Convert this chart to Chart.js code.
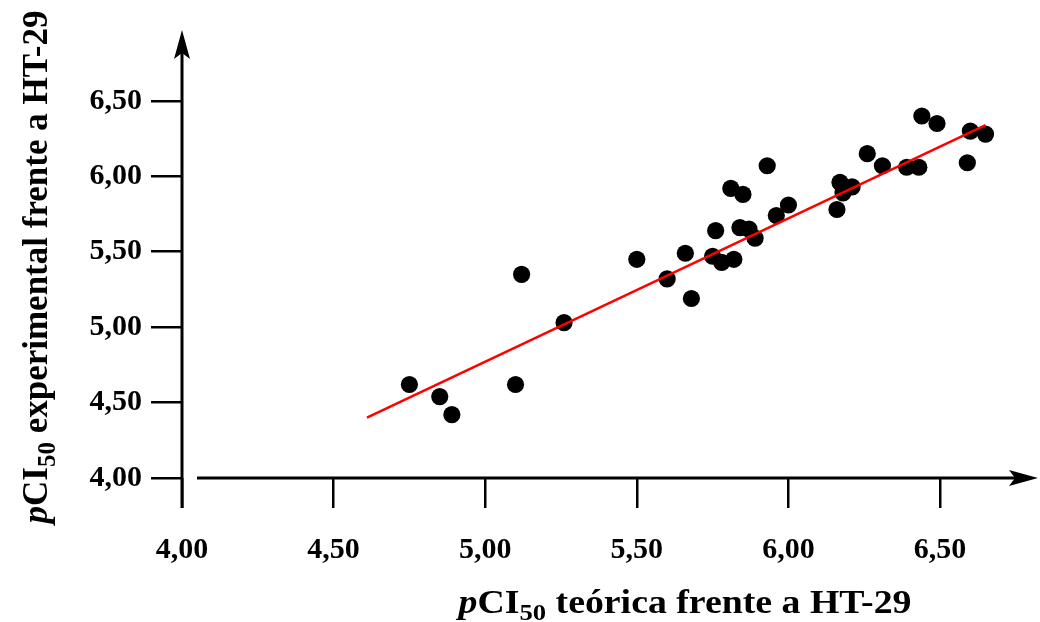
<!DOCTYPE html>
<html>
<head>
<meta charset="utf-8">
<script src="https://cdn.jsdelivr.net/npm/chart.js@4.4.1/dist/chart.umd.min.js"></script>
<style>
  html, body { margin: 0; padding: 0; background: #fff; }
  #wrap { width: 1040px; height: 622px; }
</style>
</head>
<body>
<div id="wrap"><canvas id="chart" width="1040" height="622"></canvas></div>
<script>
// pCI50 teórica (x) vs pCI50 experimental (y)
const teorica = [4.75, 4.85, 4.89, 5.10, 5.12, 5.26, 5.50, 5.60, 5.66, 5.68,
                 5.75, 5.76, 5.78, 5.82, 5.81, 5.84, 5.85, 5.87, 5.89, 5.93,
                 5.96, 6.00, 6.16, 6.17, 6.18, 6.21, 6.26, 6.31, 6.39, 6.43,
                 6.44, 6.49, 6.59, 6.60, 6.65]
const experimental = [4.62, 4.54, 4.42, 4.62, 5.35, 5.03, 5.45, 5.32, 5.49, 5.19,
                      5.47, 5.64, 5.43, 5.45, 5.92, 5.66, 5.88, 5.65, 5.59, 6.07,
                      5.74, 5.81, 5.78, 5.96, 5.89, 5.93, 6.15, 6.07, 6.06, 6.06,
                      6.40, 6.35, 6.09, 6.30, 6.28]
// regression line ends
const fitX = [4.61, 6.65]
const fitY = [4.40, 6.34]
const xTicks = [4.0, 4.5, 5.0, 5.5, 6.0, 6.5]
const yTicks = [4.0, 4.5, 5.0, 5.5, 6.0, 6.5]

const FONT = '"Liberation Serif", "Times New Roman", serif'
const fmt = v => v.toFixed(2).replace('.', ',')

// draws "pCI50 ..." with italic p and subscript 50, centred on (0,0)
function richTitle(ctx, rest, size, targetW) {
  const sub = Math.round(size * 0.72)
  const parts = [
    { t: 'p', f: 'italic bold ' + size + 'px ' + FONT, dy: 0 },
    { t: 'CI', f: 'bold ' + size + 'px ' + FONT, dy: 0 },
    { t: '50', f: 'bold ' + sub + 'px ' + FONT, dy: Math.round(size * 0.22) },
    { t: rest, f: 'bold ' + size + 'px ' + FONT, dy: 0 }
  ]
  let w = 0
  parts.forEach(p => { ctx.font = p.f; p.w = ctx.measureText(p.t).width; w += p.w })
  if (targetW) ctx.scale(targetW / w, 1)
  let x = -w / 2
  ctx.textBaseline = 'alphabetic'
  ctx.textAlign = 'left'
  ctx.fillStyle = '#000'
  parts.forEach(p => { ctx.font = p.f; ctx.fillText(p.t, x, p.dy); x += p.w })
}

function arrow(ctx, tx, ty, dir) {
  ctx.save()
  ctx.translate(tx, ty)
  if (dir === 'right') ctx.rotate(Math.PI / 2)
  ctx.beginPath()
  ctx.moveTo(0, 0)
  ctx.lineTo(-8, 29)
  ctx.lineTo(0, 23)
  ctx.lineTo(8, 29)
  ctx.closePath()
  ctx.fillStyle = '#000'
  ctx.fill()
  ctx.restore()
}

const axesPlugin = {
  id: 'axesPlugin',
  afterDraw(chart) {
    const ctx = chart.ctx
    const xs = chart.scales.x, ys = chart.scales.y
    const x0 = xs.getPixelForValue(xTicks[0])
    const y0 = ys.getPixelForValue(yTicks[0])
    ctx.save()
    ctx.strokeStyle = '#000'
    ctx.lineWidth = 3
    ctx.beginPath()
    ctx.moveTo(x0, y0 + 30)
    ctx.lineTo(x0, 40)
    ctx.moveTo(x0 + 15, y0)
    ctx.lineTo(1028, y0)
    ctx.stroke()
    arrow(ctx, x0, 30, 'up')
    arrow(ctx, 1038, y0, 'right')

    ctx.save()
    ctx.translate(685, 613)
    richTitle(ctx, ' teórica frente a HT-29', 34, 453)
    ctx.restore()

    ctx.save()
    ctx.translate(47, 267)
    ctx.rotate(-Math.PI / 2)
    richTitle(ctx, ' experimental frente a HT-29', 35, 0)
    ctx.restore()
    ctx.restore()
  }
}

new Chart(document.getElementById('chart'), {
  data: {
    datasets: [
      {
        type: 'line',
        data: fitX.map((x, i) => ({ x, y: fitY[i] })),
        borderColor: '#ff0000',
        borderWidth: 2.5,
        pointRadius: 0,
        fill: false,
        order: 0
      },
      {
        type: 'scatter',
        data: teorica.map((x, i) => ({ x, y: experimental[i] })),
        backgroundColor: '#000',
        borderWidth: 0,
        pointRadius: 8.6,
        order: 1
      }
    ]
  },
  plugins: [axesPlugin],
  options: {
    responsive: false,
    animation: false,
    layout: { padding: { top: 30, right: 9, left: 0, bottom: 0 } },
    plugins: { legend: { display: false }, tooltip: { enabled: false } },
    scales: {
      x: {
        type: 'linear',
        min: 4.0,
        max: 6.8,
        afterFit: s => { s.height = 144 },
        afterBuildTicks: s => { s.ticks = xTicks.map(v => ({ value: v })) },
        border: { display: false },
        grid: { drawOnChartArea: false, drawTicks: true, tickLength: 30, color: '#000', lineWidth: 2.5 },
        ticks: {
          color: '#000',
          padding: 24,
          maxRotation: 0,
          font: { family: FONT, size: 30, weight: 'bold' },
          callback: v => fmt(v)
        }
      },
      y: {
        type: 'linear',
        min: 4.0,
        max: 6.97,
        afterFit: s => { s.width = 182 },
        afterBuildTicks: s => { s.ticks = yTicks.map(v => ({ value: v })) },
        border: { display: false },
        grid: { drawOnChartArea: false, drawTicks: true, tickLength: 31, color: '#000', lineWidth: 2.5 },
        ticks: {
          color: '#000',
          padding: 9,
          font: { family: FONT, size: 30, weight: 'bold' },
          callback: v => fmt(v)
        }
      }
    }
  }
})
</script>
</body>
</html>
